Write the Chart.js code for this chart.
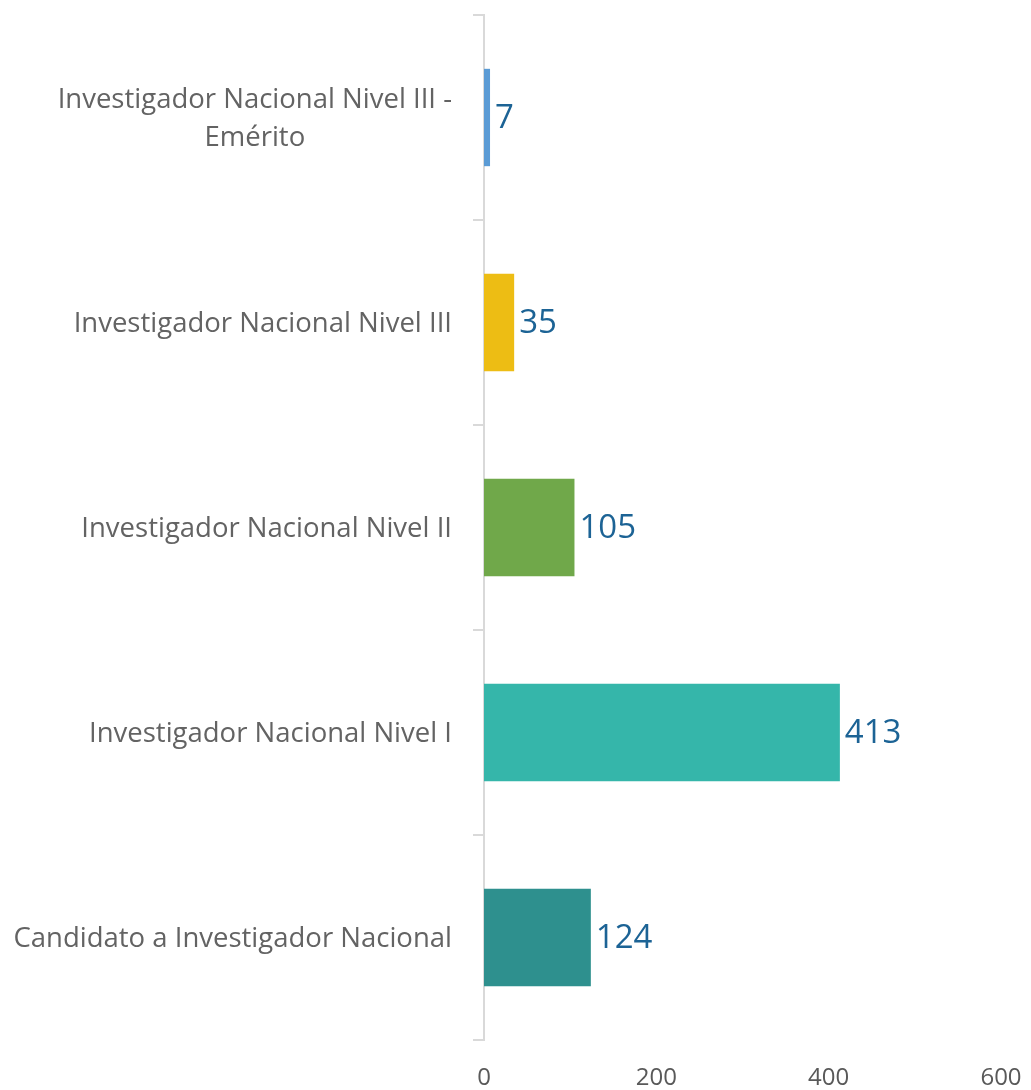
<!DOCTYPE html>
<html>
<head>
<meta charset="utf-8">
<script src="https://cdn.jsdelivr.net/npm/chart.js@4.4.1/dist/chart.umd.min.js"></script>
<style>
  html, body { margin: 0; padding: 0; background: #fff; }
  #wrap { position: relative; width: 1031px; height: 1090px; }
</style>
</head>
<body>
<div id="wrap"><canvas id="chart"></canvas></div>
<script>
// categories, top to bottom
const categories = [
    ['Investigador Nacional Nivel III -', 'Emérito'],
    'Investigador Nacional Nivel III',
    'Investigador Nacional Nivel II',
    'Investigador Nacional Nivel I',
    'Candidato a Investigador Nacional'
];
const values = [7, 35, 105, 413, 124];
const barColors = ['#5b9bd5', '#edbd14', '#70a84a', '#35b6aa', '#2e908e'];
const xTicks = [0, 200, 400, 600];

const FONT = "'Open Sans', 'Noto Sans', sans-serif";

// category labels drawn by hand so wrapped lines are centred like the original
const categoryLabels = {
    id: 'categoryLabels',
    afterDraw(chart) {
        const ctx = chart.ctx;
        const yScale = chart.scales.y;
        const right = 452;
        const lineHeight = 38;
        ctx.save();
        ctx.font = '27.5px ' + FONT;
        ctx.fillStyle = '#636363';
        ctx.textBaseline = 'middle';
        ctx.textAlign = 'center';
        categories.forEach((label, i) => {
            const lines = Array.isArray(label) ? label : [label];
            const widest = Math.max(...lines.map(l => ctx.measureText(l).width));
            const cx = right - widest / 2;
            const y = yScale.getPixelForTick(i) + 2;
            const startY = y - (lines.length - 1) * lineHeight / 2;
            lines.forEach((l, j) => ctx.fillText(l, cx, startY + j * lineHeight));
        });
        ctx.restore();
    }
};

const valueLabels = {
    id: 'valueLabels',
    afterDatasetsDraw(chart) {
        const ctx = chart.ctx;
        const meta = chart.getDatasetMeta(0);
        ctx.save();
        ctx.font = '33px ' + FONT;
        ctx.fillStyle = '#1c6395';
        ctx.textAlign = 'left';
        ctx.textBaseline = 'middle';
        meta.data.forEach((bar, i) => {
            ctx.fillText(String(values[i]), bar.x + 5, bar.y + 1);
        });
        ctx.restore();
    }
};

new Chart(document.getElementById('chart'), {
    type: 'bar',
    data: {
        labels: categories,
        datasets: [{
            data: values,
            backgroundColor: barColors,
            borderWidth: 0,
            categoryPercentage: 1,
            barPercentage: 0.475
        }]
    },
    options: {
        indexAxis: 'y',
        responsive: true,
        maintainAspectRatio: false,
        animation: false,
        layout: { padding: { top: 15, right: 30, bottom: 0, left: 0 } },
        scales: {
            x: {
                min: 0,
                max: 600,
                afterBuildTicks: (scale) => { scale.ticks = xTicks.map(v => ({ value: v })); },
                afterFit: (scale) => {
                    scale.height = 50;
                    scale.paddingRight = 0;
                    scale.paddingLeft = 0;
                },
                grid: { display: false },
                border: { display: false },
                ticks: {
                    color: '#595959',
                    padding: 16,
                    font: { family: FONT, size: 24 }
                }
            },
            y: {
                afterFit: (scale) => { scale.width = 484; },
                grid: {
                    drawOnChartArea: false,
                    drawTicks: true,
                    offset: true,
                    tickLength: 11,
                    color: '#d9d9d9',
                    lineWidth: 2
                },
                border: { display: true, color: '#d9d9d9', width: 2 },
                ticks: { display: false }
            }
        },
        plugins: {
            legend: { display: false },
            tooltip: { enabled: false }
        }
    },
    plugins: [categoryLabels, valueLabels]
});
</script>
</body>
</html>
